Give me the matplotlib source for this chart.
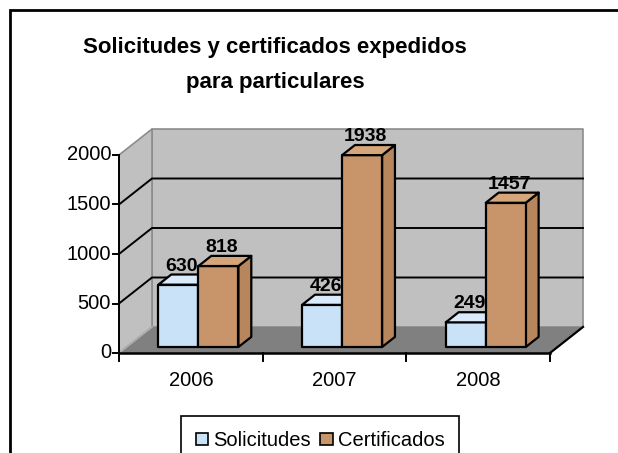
import matplotlib.pyplot as plt
from matplotlib.patches import Polygon, Rectangle

plt.rcParams["font.family"] = ["Liberation Sans", "DejaVu Sans"]

years = ["2006", "2007", "2008"]
solicitudes = [630, 426, 249]
certificados = [818, 1938, 1457]
y_ticks = [0, 500, 1000, 1500, 2000]

W, H = 618, 453
fig = plt.figure(figsize=(W / 100, H / 100), dpi=100)

# outer chart border (right/bottom run off the picture)
fig.patches.append(Rectangle((10 / W, -0.1), 1.2, 1 - 10 / H + 0.1, transform=fig.transFigure,
                             fill=False, edgecolor="black", linewidth=2))

# axes: front plane x 0..3 maps to px 119..550, value 0..2000 maps to px 353..155
x0, x1, y0 = 119, 550, 353
px_x = (x1 - x0) / 3.0
px_v = 198 / 2000.0
DX = 33 / px_x       # depth offset in data units
DV = 26 / px_v
ax = fig.add_axes([x0 / W, 1 - y0 / H, (x1 - x0 + 40) / W, 240 / H])
ax.set_xlim(0, 3 + 40 / px_x)
ax.set_ylim(0, 240 / px_v)
ax.axis("off")


def p(x, v, d):
    return (x + d * DX, v + d * DV)


def poly(pts, fc, ec="black", lw=1.6, z=1):
    ax.add_patch(Polygon(pts, closed=True, facecolor=fc, edgecolor=ec, linewidth=lw, zorder=z,
                         clip_on=False, joinstyle="round"))


vmax = 2000
# back wall and side wall
poly([p(0, 0, 1), p(3, 0, 1), p(3, vmax, 1), p(0, vmax, 1)], "#c0c0c0", ec="#8c8c8c", lw=1.2)
poly([p(0, 0, 0), p(0, 0, 1), p(0, vmax, 1), p(0, vmax, 0)], "#c0c0c0", ec="#8c8c8c", lw=1.2)
# floor
poly([p(0, 0, 0), p(3, 0, 0), p(3, 0, 1), p(0, 0, 1)], "#808080", ec="none", lw=0)
ax.plot(*zip(p(0, 0, 0), p(0, 0, 1)), color="#b0b0b0", lw=1.2, zorder=2, clip_on=False)
ax.plot(*zip(p(3, 0, 0), p(3, 0, 1)), color="black", lw=1.6, zorder=2, clip_on=False)

# gridlines on back and side walls
for t in y_ticks[1:-1]:
    ax.plot(*zip(p(0, t, 0), p(0, t, 1), p(3, t, 1)), color="black", lw=1.4, zorder=2, clip_on=False)

# front axes
ax.plot(*zip(p(0, 0, 0), p(0, vmax, 0)), color="black", lw=1.4, zorder=5, clip_on=False)
ax.plot(*zip(p(0, 0, 0), p(3, 0, 0)), color="black", lw=1.8, zorder=5, clip_on=False)
for t in y_ticks:
    ax.plot([-6 / px_x, 0], [t, t], color="black", lw=1.4, zorder=5, clip_on=False)
    ax.text(-8 / px_x, t, str(t), ha="right", va="center", fontsize=14.5, zorder=5)
for i in range(4):
    ax.plot([i, i], [0, -8 / px_v], color="black", lw=1.4, zorder=5, clip_on=False)
for i, yr in enumerate(years):
    ax.text(i + 0.5, -27 / px_v, yr, ha="center", va="center", fontsize=14.5)

# bars
bw = 40 / px_x
d0, d1 = 0.23, 0.62
styles = [("#cae2f8", "#dbeafb", "#b4d2ee"), ("#c8956a", "#d4a67a", "#b8865c")]
for i in range(len(years)):
    for k, vals in enumerate([solicitudes, certificados]):
        v = vals[i]
        left = i + 0.5 - bw + k * bw
        front, top, side = styles[k]
        poly([p(left + bw, 0, d0), p(left + bw, 0, d1), p(left + bw, v, d1), p(left + bw, v, d0)], side, z=3)
        poly([p(left, 0, d0), p(left + bw, 0, d0), p(left + bw, v, d0), p(left, v, d0)], front, z=3)
        poly([p(left, v, d0), p(left + bw, v, d0), p(left + bw, v, d1), p(left, v, d1)], top, z=3)
        lx, ly = p(left + bw / 2, v, (d0 + d1) / 2)
        ax.text(lx - 3 / px_x, ly + 5 / px_v, str(v), ha="center", va="bottom", fontsize=14,
                fontweight="bold", zorder=6)

fig.text(275 / W, 1 - 65 / H, "Solicitudes y certificados expedidos\npara particulares",
         ha="center", va="center", fontsize=16, fontweight="bold", linespacing=1.85)

handles = [Rectangle((0, 0), 1, 1, facecolor=styles[0][0], edgecolor="black", linewidth=1.2),
           Rectangle((0, 0), 1, 1, facecolor=styles[1][0], edgecolor="black", linewidth=1.2)]
leg = fig.legend(handles, ["Solicitudes", "Certificados"], loc="upper center",
                 bbox_to_anchor=(320 / W, 1 - 416 / H), ncol=2, fontsize=14.5, frameon=True,
                 fancybox=False, edgecolor="black", framealpha=1, handlelength=0.6, handleheight=0.6,
                 handletextpad=0.25, columnspacing=0.5, borderpad=0.75, borderaxespad=0)
leg.get_frame().set_linewidth(1.2)

fig.savefig("out.png", dpi=100)
